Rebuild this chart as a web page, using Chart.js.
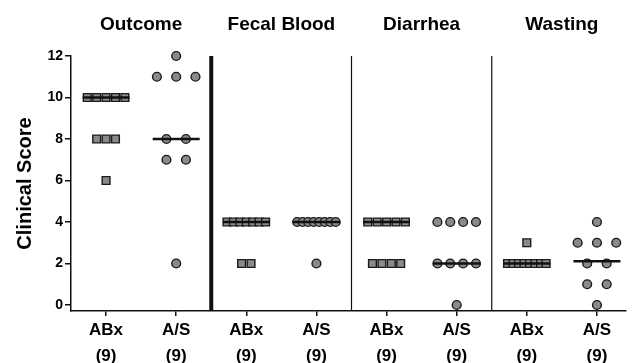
<!DOCTYPE html>
<html>
<head>
<meta charset="utf-8">
<script src="https://cdn.jsdelivr.net/npm/chart.js@4.4.1/dist/chart.umd.min.js"></script>
<style>
	html, body { margin: 0; padding: 0; background: #fff; }
	#wrap { width: 633px; height: 363px; position: relative; }
</style>
</head>
<body>
<div id="wrap"><canvas id="chart"></canvas></div>
<script>
	'use strict'

	// Panel titles and per-group tick labels
	const panelTitles = ['Outcome', 'Fecal Blood', 'Diarrhea', 'Wasting'];
	const groupLabels = ['ABx', 'A/S', 'ABx', 'A/S', 'ABx', 'A/S', 'ABx', 'A/S'];
	const groupSizes = ['(9)', '(9)', '(9)', '(9)', '(9)', '(9)', '(9)', '(9)'];
	const yTicks = [0, 2, 4, 6, 8, 10, 12];

	// Clinical scores, one array per group
	const outcomeABx = [10, 10, 10, 10, 10, 8, 8, 8, 6];
	const outcomeAS = [12, 11, 11, 11, 8, 8, 7, 7, 2];
	const fecalABx = [4, 4, 4, 4, 4, 4, 4, 2, 2];
	const fecalAS = [4, 4, 4, 4, 4, 4, 4, 4, 2];
	const diarrheaABx = [4, 4, 4, 4, 4, 2, 2, 2, 2];
	const diarrheaAS = [4, 4, 4, 4, 2, 2, 2, 2, 0];
	const wastingABx = [3, 2, 2, 2, 2, 2, 2, 2, 2];
	const wastingAS = [4, 3, 3, 3, 2, 2, 1, 1, 0];

	// Horizontal centre line for each group
	const centerLines = [10, 8, 4, 4, 4, 2, 2, 2.11];

	const groups = [outcomeABx, outcomeAS, fecalABx, fecalAS, diarrheaABx, diarrheaAS, wastingABx, wastingAS];

	const fillGray = '#8a8a8a';
	const edgeColor = '#1a1a1a';
	const yMin = -0.29;
	const plotRight = 632;

	// Spread points that share a value side by side around the group centre
	function spreadPoints(values, center, step) {
		const maxSpread = 0.55;
		const counts = {};
		values.forEach(v => counts[v] = (counts[v] || 0) + 1);
		const seen = {};
		return values.map(v => {
			const n = counts[v];
			const i = seen[v] = (seen[v] === undefined ? 0 : seen[v] + 1);
			const gap = n > 1 ? Math.min(step, maxSpread / (n - 1)) : 0;
			return { x: center + (i - (n - 1) / 2) * gap, y: v };
		});
	}

	// keep the plot area exactly where the axes put it
	function noPadding(scale) {
		scale.paddingLeft = 0;
		scale.paddingRight = 0;
		scale.paddingTop = 0;
		scale.paddingBottom = 0;
	}

	const datasets = [];

	// centre lines on top
	centerLines.forEach((v, i) => {
		const c = i + 0.5;
		datasets.push({
			type: 'line',
			data: [{ x: c - 0.335, y: v }, { x: c + 0.335, y: v }],
			borderColor: '#111',
			borderWidth: 2.6,
			pointRadius: 0,
			clip: false,
			order: 0
		});
	});

	// scatter groups
	groups.forEach((values, i) => {
		const isSquare = groupLabels[i] === 'ABx';
		datasets.push({
			type: 'scatter',
			data: spreadPoints(values, i + 0.5, isSquare ? 0.134 : 0.278),
			pointStyle: isSquare ? 'rect' : 'circle',
			pointRadius: isSquare ? 5.5 : 4.4,
			pointHoverRadius: isSquare ? 5.5 : 4.4,
			backgroundColor: fillGray,
			borderColor: edgeColor,
			borderWidth: 1.4,
			clip: false,
			order: 1
		});
	});

	// panel separators
	[[2, 4], [4, 1.2], [6, 1.2]].forEach(([x, w]) => {
		datasets.push({
			type: 'line',
			data: [{ x: x, y: yMin }, { x: x, y: 12 }],
			borderColor: '#111',
			borderWidth: w,
			pointRadius: 0,
			clip: false,
			order: 2
		});
	});

	const config = {
		type: 'scatter',
		data: { datasets: datasets },
		options: {
			responsive: true,
			maintainAspectRatio: false,
			animation: false,
			layout: { padding: { top: 0, right: 1, bottom: 0, left: 0 } },
			plugins: {
				legend: { display: false },
				tooltip: { enabled: false },
				title: { display: false }
			},
			scales: {
				x: {
					type: 'linear',
					position: 'bottom',
					min: 0,
					max: 8,
					afterBuildTicks: scale => {
						scale.ticks = groupLabels.map((l, i) => ({ value: i + 0.5 }));
					},
					afterFit: scale => {
						scale.height = 52;
						noPadding(scale);
					},
					ticks: {
						autoSkip: false,
						maxRotation: 0,
						padding: 1,
						color: '#000',
						font: { family: 'Liberation Sans', weight: 'bold', size: 17, lineHeight: 1.53 },
						callback: (value, index) => [groupLabels[index], groupSizes[index]]
					},
					grid: {
						display: true,
						drawOnChartArea: false,
						drawTicks: true,
						tickLength: 5,
						color: '#111',
						lineWidth: 1.5
					},
					border: { display: true, color: '#111', width: 1.5 }
				},
				top: {
					type: 'linear',
					position: 'top',
					min: 0,
					max: 8,
					afterBuildTicks: scale => {
						scale.ticks = panelTitles.map((t, i) => ({ value: i * 2 + 1 }));
					},
					afterFit: scale => {
						scale.height = 56;
						noPadding(scale);
					},
					ticks: {
						autoSkip: false,
						maxRotation: 0,
						padding: 20,
						color: '#000',
						font: { family: 'Liberation Sans', weight: 'bold', size: 19 },
						callback: (value, index) => panelTitles[index]
					},
					grid: { display: false, drawTicks: false },
					border: { display: false }
				},
				y: {
					type: 'linear',
					min: yMin,
					max: 12,
					afterBuildTicks: scale => {
						scale.ticks = yTicks.map(v => ({ value: v }));
					},
					afterFit: scale => {
						scale.width = 71;
						noPadding(scale);
					},
					title: {
						display: true,
						text: 'Clinical Score',
						color: '#000',
						padding: { top: 13, bottom: 0 },
						font: { family: 'Liberation Sans', weight: 'bold', size: 20 }
					},
					ticks: {
						padding: 2,
						color: '#000',
						font: { family: 'Liberation Sans', weight: 'bold', size: 14 }
					},
					grid: {
						display: true,
						drawOnChartArea: false,
						drawTicks: true,
						tickLength: 6,
						color: '#111',
						lineWidth: 1.5
					},
					border: { display: true, color: '#111', width: 1.5 }
				}
			}
		}
	};

	const chart = new Chart(document.getElementById('chart'), config);

	// layout leaves the plot a few px short on the right; keep the category width
	// of the original by trimming the x range instead
	const area = chart.chartArea;
	const unit = (plotRight - area.left) / 8;
	const newMax = (area.right - area.left) / unit;
	if (newMax < 7.999) {
		chart.options.scales.x.max = newMax;
		chart.options.scales.top.max = newMax;
		chart.update();
	}
</script>
</body>
</html>
